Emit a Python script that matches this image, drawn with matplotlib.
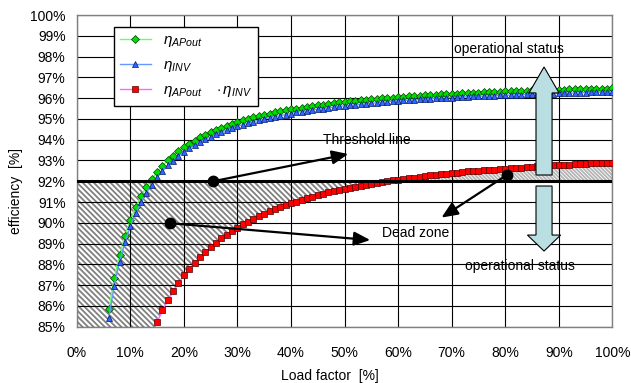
import numpy as np
import matplotlib
matplotlib.use('Agg')
import matplotlib.pyplot as plt
from matplotlib.patches import FancyArrow
from matplotlib.ticker import FuncFormatter, MultipleLocator

plt.rcParams['font.family'] = ['Liberation Sans', 'DejaVu Sans']
plt.rcParams['mathtext.fontset'] = 'custom'
plt.rcParams['mathtext.rm'] = 'Liberation Sans'
plt.rcParams['mathtext.it'] = 'Liberation Sans:italic'
plt.rcParams['hatch.color'] = '#808080'
plt.rcParams['hatch.linewidth'] = 1.3

# load factor [%] and efficiencies [%]
load_ap = np.arange(6, 101)
eta_apout = [85.83, 87.32, 88.47, 89.38, 90.13, 90.75, 91.27, 91.72, 92.10, 92.44,
             92.74, 93.00, 93.23, 93.44, 93.64, 93.81, 93.96, 94.11, 94.24, 94.36,
             94.47, 94.58, 94.67, 94.77, 94.85, 94.93, 95.00, 95.07, 95.14, 95.20,
             95.26, 95.31, 95.36, 95.41, 95.46, 95.50, 95.54, 95.58, 95.62, 95.66,
             95.69, 95.73, 95.76, 95.79, 95.82, 95.84, 95.87, 95.90, 95.92, 95.94,
             95.97, 95.99, 96.01, 96.03, 96.05, 96.07, 96.09, 96.10, 96.12, 96.14,
             96.15, 96.17, 96.18, 96.20, 96.21, 96.22, 96.24, 96.25, 96.26, 96.27,
             96.28, 96.29, 96.30, 96.31, 96.32, 96.33, 96.34, 96.35, 96.36, 96.37,
             96.38, 96.38, 96.39, 96.40, 96.41, 96.41, 96.42, 96.43, 96.43, 96.44,
             96.45, 96.45, 96.46, 96.46, 96.47]
eta_inv = [85.44, 86.96, 88.13, 89.06, 89.83, 90.46, 90.99, 91.45, 91.84, 92.19,
           92.49, 92.76, 92.99, 93.21, 93.41, 93.58, 93.74, 93.89, 94.02, 94.14,
           94.26, 94.37, 94.46, 94.56, 94.64, 94.73, 94.80, 94.87, 94.94, 95.00,
           95.06, 95.11, 95.16, 95.21, 95.26, 95.31, 95.35, 95.39, 95.43, 95.47,
           95.50, 95.54, 95.57, 95.60, 95.63, 95.65, 95.68, 95.71, 95.73, 95.75,
           95.78, 95.80, 95.83, 95.85, 95.87, 95.89, 95.91, 95.92, 95.94, 95.96,
           95.97, 95.99, 96.00, 96.02, 96.03, 96.04, 96.06, 96.07, 96.08, 96.09,
           96.10, 96.11, 96.12, 96.13, 96.14, 96.15, 96.16, 96.17, 96.18, 96.19,
           96.20, 96.20, 96.21, 96.22, 96.23, 96.23, 96.24, 96.25, 96.25, 96.27,
           96.28, 96.28, 96.29, 96.29, 96.30]
load_pr = np.arange(15, 101)
eta_prod = [85.22, 85.78, 86.27, 86.70, 87.10, 87.47, 87.79, 88.08, 88.36, 88.60,
            88.83, 89.05, 89.26, 89.43, 89.62, 89.77, 89.93, 90.06, 90.19, 90.33,
            90.44, 90.55, 90.65, 90.75, 90.84, 90.94, 91.02, 91.10, 91.17, 91.25,
            91.33, 91.38, 91.46, 91.52, 91.58, 91.63, 91.67, 91.73, 91.79, 91.82,
            91.86, 91.92, 91.96, 92.01, 92.05, 92.08, 92.12, 92.16, 92.18, 92.22,
            92.26, 92.28, 92.31, 92.33, 92.37, 92.39, 92.41, 92.45, 92.47, 92.49,
            92.51, 92.53, 92.54, 92.56, 92.58, 92.60, 92.62, 92.64, 92.66, 92.68,
            92.70, 92.72, 92.72, 92.74, 92.76, 92.78, 92.78, 92.79, 92.81, 92.81,
            92.84, 92.86, 92.86, 92.88, 92.88, 92.90]
threshold = 92.0
ymin, ymax = 85, 100

fig = plt.figure(figsize=(6.31, 3.83), dpi=100)
ax = fig.add_axes([0.1216, 0.147, 0.8488, 0.8138])

# dead zone hatching
prod = np.array(eta_prod)
coarse = '\\' * 6
fine = '\\' * 9
ax.fill_between([0, load_pr[0]], ymin, threshold, facecolor='none', edgecolor='#808080',
                lw=0, hatch=coarse, zorder=1)
ax.fill_between(load_pr, prod, threshold, where=prod <= threshold, interpolate=True,
                facecolor='none', edgecolor='#808080', lw=0, hatch=coarse, zorder=1)
ax.fill_between(load_pr, threshold, prod, where=prod >= threshold, interpolate=True,
                facecolor='none', edgecolor='#b4b4b4', lw=0, hatch=fine, zorder=1)

ax.plot(load_ap, eta_apout, color='#66ff66', lw=1, marker='D', ms=3.8,
        mfc='#00dd00', mec='#004400', mew=0.5, label=r'$\eta_{APout}$', zorder=3)
ax.plot(load_ap, eta_inv, color='#6699ff', lw=1, marker='^', ms=5,
        mfc='#3366ff', mec='#001a66', mew=0.5, label=r'$\eta_{INV}$', zorder=3)
ax.plot(load_pr, eta_prod, color='#ff66ff', lw=1, marker='s', ms=4.3,
        mfc='#ff0000', mec='#550000', mew=0.5,
        label=r'$\eta_{APout}\quad\cdot\eta_{INV}$', zorder=3)

ax.axhline(threshold, color='black', lw=2.2, zorder=3)

# annotations
arrow_kw = dict(arrowstyle='-|>,head_length=0.7,head_width=0.3', color='black',
                lw=1.6, mutation_scale=14, shrinkA=0, shrinkB=0)
ann = [((25.5, 92.0), (50.7, 93.31)),
       ((17.4, 89.98), (54.8, 89.17)),
       ((80.3, 92.30), (68.1, 90.25))]
for start, head in ann:
    ax.annotate('', xy=head, xytext=start, arrowprops=arrow_kw, zorder=5)
    ax.plot(*start, 'o', color='black', ms=7.5, zorder=6)

ax.text(54.2, 93.98, 'Threshold line', ha='center', va='center', fontsize=10, zorder=6)
ax.text(63.3, 89.49, 'Dead zone', ha='center', va='center', fontsize=10, zorder=6)
ax.text(80.7, 98.36, 'operational status', ha='center', va='center', fontsize=10, zorder=6)
ax.text(82.7, 87.92, 'operational status', ha='center', va='center', fontsize=10, zorder=6)

ax.add_patch(FancyArrow(87.25, 92.30, 0, 5.2, width=3.0, head_width=5.6, head_length=1.25,
                        length_includes_head=True, fc='#b9dfe3', ec='black', lw=0.8, zorder=4))
ax.add_patch(FancyArrow(87.25, 91.77, 0, -3.13, width=3.0, head_width=6.2, head_length=0.77,
                        length_includes_head=True, fc='#b9dfe3', ec='black', lw=0.8, zorder=4))

ax.set_xlim(0, 100)
ax.set_ylim(ymin, ymax)
ax.xaxis.set_major_locator(MultipleLocator(10))
ax.yaxis.set_major_locator(MultipleLocator(1))
ax.xaxis.set_major_formatter(FuncFormatter(lambda v, p: f'{v:.0f}%'))
ax.yaxis.set_major_formatter(FuncFormatter(lambda v, p: f'{v:.0f}%'))
ax.tick_params(length=0, labelsize=10)
ax.tick_params(axis='x', pad=14)
ax.tick_params(axis='y', pad=8)
ax.grid(True, color='black', lw=0.8)
for s in ax.spines.values():
    s.set_color('#808080')
    s.set_linewidth(1)

ax.set_xlabel('Load factor  [%]', fontsize=10)
ax.xaxis.set_label_coords(0.473, -0.135)
ax.set_ylabel('efficiency  [%]', fontsize=10)
ax.yaxis.set_label_coords(-0.1, 0.435)

leg = ax.legend(loc='upper left', bbox_to_anchor=(0.0696, 0.9615), borderaxespad=0,
                fontsize=11, fancybox=False, framealpha=1, edgecolor='black',
                handlelength=2.0, labelspacing=0.6)
leg.get_frame().set_linewidth(1)
leg.set_zorder(7)

fig.savefig('out.png', dpi=100)
